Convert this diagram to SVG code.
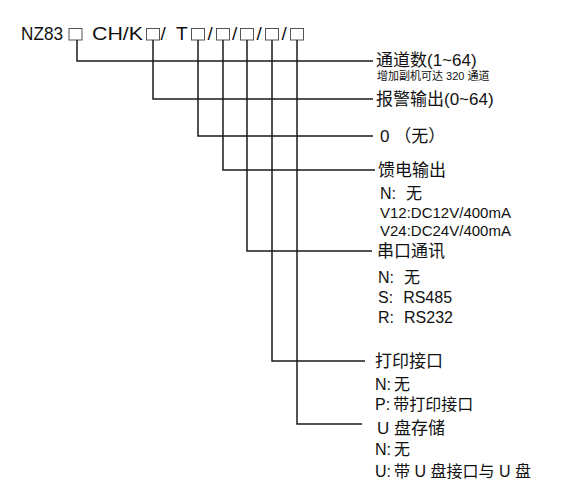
<svg xmlns="http://www.w3.org/2000/svg" width="570" height="497" viewBox="0 0 570 497">
<style>
text{font-family:"Liberation Sans","Noto Sans CJK SC",sans-serif;fill:#111}
.t{font-size:19px}
.b{fill:#fff;stroke:#555;stroke-width:1}
.h{font-size:17px}
.s{font-size:15px}
.m{font-size:16px}
.x{font-size:11px}
.c{fill:none;stroke:#1a1a1a;stroke-width:1.5}
</style>
<rect width="570" height="497" fill="#fff"/>
<g id="model">
<text class="t" y="40"><tspan x="21" textLength="42" lengthAdjust="spacingAndGlyphs">NZ83</tspan><tspan x="92" textLength="51" lengthAdjust="spacingAndGlyphs">CH/K</tspan><tspan x="160.5">/</tspan><tspan x="176">T</tspan><tspan x="207.5">/</tspan><tspan x="232">/</tspan><tspan x="256.5">/</tspan><tspan x="281.5">/</tspan></text>
<rect class="b" x="69" y="28.5" width="13" height="11.5"/>
<rect class="b" x="146.5" y="28.5" width="13" height="11.5"/>
<rect class="b" x="191.5" y="28.5" width="13" height="11.5"/>
<rect class="b" x="216.5" y="28.5" width="13" height="11.5"/>
<rect class="b" x="240.5" y="28.5" width="13" height="11.5"/>
<rect class="b" x="265.5" y="28.5" width="13" height="11.5"/>
<rect class="b" x="290.5" y="28.5" width="13" height="11.5"/>
</g>
<g id="connectors">
<path class="c" d="M77,40V61H373"/>
<path class="c" d="M153,40V99H373"/>
<path class="c" d="M198,40V136H373"/>
<path class="c" d="M223,40V170H375"/>
<path class="c" d="M247,40V251H372"/>
<path class="c" d="M272,40V361H365"/>
<path class="c" d="M297,40V424H362"/>
</g>
<g id="channels">
<text class="h" x="376" y="66">通道数(1~64)</text>
<text class="x" x="377" y="80">增加副机可达 320 通道</text>
</g>
<g id="alarm">
<text class="h" x="376" y="105">报警输出(0~64)</text>
</g>
<g id="zero">
<text class="h" x="380" y="142">0 （无）</text>
</g>
<g id="feed">
<text class="h" x="378" y="176">馈电输出</text>
<text class="m" x="380" y="199">N:<tspan dx="10">无</tspan></text>
<text class="s" x="380" y="218">V12:DC12V/400mA</text>
<text class="s" x="380" y="236">V24:DC24V/400mA</text>
</g>
<g id="serial">
<text class="h" x="377" y="257">串口通讯</text>
<text class="m" x="378" y="283">N:<tspan dx="10">无</tspan></text>
<text class="m" x="378" y="303">S:<tspan dx="10">RS485</tspan></text>
<text class="m" x="378" y="323">R:<tspan dx="10">RS232</tspan></text>
</g>
<g id="print">
<text class="h" x="375" y="367">打印接口</text>
<text class="m" x="375" y="390">N:<tspan dx="3">无</tspan></text>
<text class="m" x="375" y="410">P:<tspan dx="3">带打印接口</tspan></text>
</g>
<g id="usb">
<text class="h" x="377" y="434">U 盘存储</text>
<text class="m" x="375" y="455">N:<tspan dx="3">无</tspan></text>
<text class="m" x="375" y="477">U:<tspan dx="3">带 U 盘接口与 U 盘</tspan></text>
</g>
</svg>
